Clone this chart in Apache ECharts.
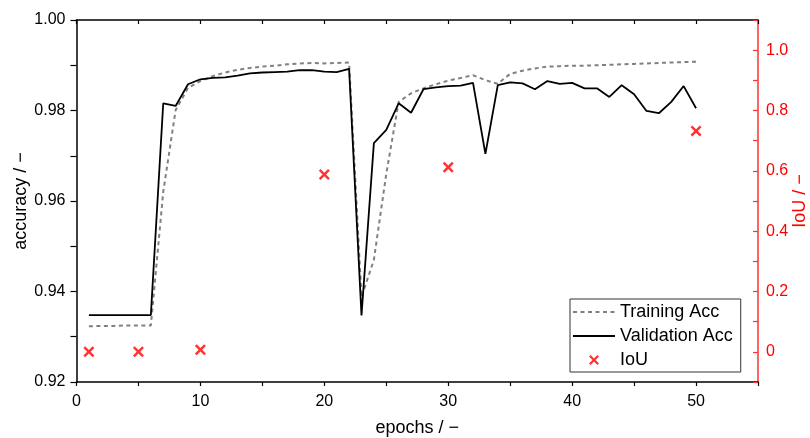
<!DOCTYPE html>
<html>
<head>
<meta charset="utf-8">
<script src="https://cdn.jsdelivr.net/npm/echarts@6/dist/echarts.min.js"></script>
<style>
	html, body { margin: 0; padding: 0; background: #fff; }
	#main { width: 810px; height: 438px; }
</style>
</head>
<body>
<div id="main"></div>
<script>
//数据
var epochs = [1, 2, 3, 4, 5, 6, 7, 8, 9, 10, 11, 12, 13, 14, 15, 16, 17, 18, 19, 20,
	21, 22, 23, 24, 25, 26, 27, 28, 29, 30, 31, 32, 33, 34, 35, 36, 37, 38, 39, 40,
	41, 42, 43, 44, 45, 46, 47, 48, 49, 50];
var trainAcc = [0.9323, 0.9324, 0.9324, 0.9325, 0.9325, 0.9325, 0.9620, 0.9801, 0.9850, 0.9865,
	0.9876, 0.9884, 0.9890, 0.9894, 0.9897, 0.9899, 0.9902, 0.9904, 0.9905, 0.9904,
	0.9905, 0.9906, 0.9388, 0.9470, 0.9660, 0.9819, 0.9838, 0.9849, 0.9858, 0.9866,
	0.9872, 0.9878, 0.9867, 0.9859, 0.9881, 0.9888, 0.9893, 0.9897, 0.9898, 0.9899,
	0.9899, 0.9900, 0.9901, 0.9902, 0.9903, 0.9904, 0.9905, 0.9906, 0.9907, 0.9908];
var valAcc = [0.9348, 0.9348, 0.9348, 0.9348, 0.9348, 0.9348, 0.9816, 0.9810, 0.9858, 0.9869,
	0.9872, 0.9873, 0.9877, 0.9882, 0.9884, 0.9885, 0.9886, 0.9889, 0.9889, 0.9886,
	0.9885, 0.9892, 0.9347, 0.9728, 0.9757, 0.9816, 0.9795, 0.9847, 0.9851, 0.9854,
	0.9855, 0.9861, 0.9704, 0.9856, 0.9862, 0.9860, 0.9847, 0.9865, 0.9859, 0.9861,
	0.9849, 0.9849, 0.9830, 0.9856, 0.9836, 0.9799, 0.9794, 0.9819, 0.9854, 0.9805];
var iouEpochs = [1, 5, 10, 20, 30, 50];
var iouValues = [0.0, 0.0, 0.007, 0.588, 0.612, 0.732];

var FONT = 'Liberation Sans, Arial, sans-serif';
//叉号
var CROSS = 'path://M0,1.6L1.6,0L5,3.4L8.4,0L10,1.6L6.6,5L10,8.4L8.4,10L5,6.6L1.6,10L0,8.4L3.4,5Z';

function pairs(xs, ys) {
	var out = [];
	for (var i = 0; i < xs.length; i++) out.push([xs[i], ys[i]]);
	return out;
}

var myChart = echarts.init(document.getElementById('main'));
var noSym = { opacity: 0 };
var option = {
	animation: false,
	textStyle: { fontFamily: FONT },
	grid: { left: 76.5, right: 52, top: 20, bottom: 56, containLabel: false, outerBoundsMode: 'none' },
	legend: {
		orient: 'vertical',
		left: 570,
		top: 299,
		padding: [4, 8, 3, 2],
		itemGap: 6,
		itemWidth: 42,
		itemHeight: 10,
		borderColor: '#333',
		borderWidth: 1,
		borderRadius: 0,
		textStyle: { fontSize: 18, color: '#000', fontFamily: FONT },
		data: [
			{ name: 'Training Acc', itemStyle: noSym },
			{ name: 'Validation Acc', itemStyle: noSym },
			'IoU'
		]
	},
	xAxis: [
		{
			type: 'value', min: 0, max: 55, interval: 5,
			name: 'epochs / \u2212', nameLocation: 'middle', nameGap: 37, nameMoveOverlap: false,
			nameTextStyle: { fontSize: 18, color: '#000' },
			axisLine: { onZero: false, lineStyle: { color: '#000', width: 1.5 } },
			axisTick: { inside: false, length: 4, lineStyle: { color: '#000', width: 1.2 } },
			axisLabel: {
				fontSize: 16, color: '#000', margin: 12,
				formatter: function (v) { return v % 10 === 0 ? String(v) : ''; }
			},
			splitLine: { show: false }
		},
		{
			type: 'value', position: 'top', min: 0, max: 55, interval: 5,
			axisLine: { onZero: false, lineStyle: { color: '#000', width: 1.5 } },
			axisTick: { inside: true, length: 4, lineStyle: { color: '#000', width: 1.2 } },
			axisLabel: { show: false },
			splitLine: { show: false }
		}
	],
	yAxis: [
		{
			type: 'value', min: 0.92, max: 1.00, interval: 0.01,
			name: 'accuracy / \u2212', nameLocation: 'middle', nameGap: 46, nameMoveOverlap: false,
			nameTextStyle: { fontSize: 18, color: '#000' },
			axisLine: { show: true, onZero: false, lineStyle: { color: '#000', width: 1.5 } },
			axisTick: { show: true, inside: false, length: 6, lineStyle: { color: '#000', width: 1.2 } },
			axisLabel: {
				fontSize: 16, color: '#000', margin: 11,
				formatter: function (v) {
					return Math.round(v * 100) % 2 === 0 ? v.toFixed(2) : '';
				}
			},
			splitLine: { show: false }
		},
		{
			type: 'value', position: 'right', min: -0.1, max: 1.1, interval: 0.1,
			name: 'IoU / \u2212', nameLocation: 'middle', nameGap: 33, nameRotate: 90, nameMoveOverlap: false,
			nameTextStyle: { fontSize: 18, color: '#ff0000' },
			axisLine: { show: true, onZero: false, lineStyle: { color: '#ff3030', width: 1.5 } },
			axisTick: { show: true, inside: true, length: 5, lineStyle: { color: '#ff3030', width: 1.2 } },
			axisLabel: {
				fontSize: 16, color: '#ff0000', margin: 8,
				formatter: function (v) {
					var k = Math.round(v * 10);
					if (k < 0 || k > 10 || k % 2 !== 0) return '';
					return k === 0 ? '0' : (k / 10).toFixed(1);
				}
			},
			splitLine: { show: false }
		}
	],
	series: [
		{
			name: 'Training Acc', type: 'line',
			xAxisIndex: 0, yAxisIndex: 0,
			symbol: 'none',
			data: pairs(epochs, trainAcc),
			lineStyle: { color: '#808080', width: 2, type: [4, 3.5] },
			itemStyle: { color: '#808080' },
			z: 2
		},
		{
			name: 'Validation Acc', type: 'line',
			xAxisIndex: 0, yAxisIndex: 0,
			symbol: 'none',
			data: pairs(epochs, valAcc),
			lineStyle: { color: '#000', width: 1.8 },
			itemStyle: { color: '#000' },
			z: 3
		},
		{
			name: 'IoU', type: 'scatter',
			xAxisIndex: 0, yAxisIndex: 1,
			symbol: CROSS, symbolSize: 11,
			data: pairs(iouEpochs, iouValues),
			itemStyle: { color: '#ff0000' },
			z: 4
		}
	]
};
myChart.setOption(option);
</script>
</body>
</html>
